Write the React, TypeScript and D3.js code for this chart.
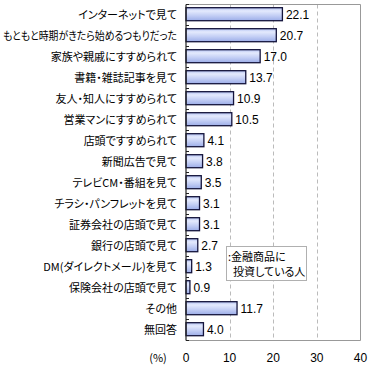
import React, { useLayoutEffect, useRef } from "react";
import * as d3 from "d3";

const categories = [
  "インターネットで見て",
  "もともと時期がきたら始めるつもりだった",
  "家族や親戚にすすめられて",
  "書籍・雑誌記事を見て",
  "友人・知人にすすめられて",
  "営業マンにすすめられて",
  "店頭ですすめられて",
  "新聞広告で見て",
  "テレビCM・番組を見て",
  "チラシ・パンフレットを見て",
  "証券会社の店頭で見て",
  "銀行の店頭で見て",
  "DM(ダイレクトメール)を見て",
  "保険会社の店頭で見て",
  "その他",
  "無回答",
];
const values = [22.1, 20.7, 17.0, 13.7, 10.9, 10.5, 4.1, 3.8, 3.5, 3.1, 3.1, 2.7, 1.3, 0.9, 11.7, 4.0];
const xTicks = [0, 10, 20, 30, 40];
const legendLines = [":金融商品に", "投資している人"];

const W = 370;
const H = 370;
const L = 186;
const R = 360.5;
const T = 4.5;
const B = 340.5;
const LABEL_X = 177;
const LABEL_MAX = 174;

const jpFont = "'Noto Sans CJK JP', 'Noto Sans', sans-serif";
const numFont = "'Liberation Sans', Arial, sans-serif";

export default function App() {
  const labelRefs = useRef<(SVGTextElement | null)[]>([]);
  const x = d3.scaleLinear().domain([0, 40]).range([L, R]);
  const y = d3.scaleBand<string>().domain(categories).range([T, B]).paddingInner(0.38).paddingOuter(0.19).align(0.4);
  const yb = d3.scaleBand<string>().domain(categories).range([T, B]).padding(0);

  useLayoutEffect(() => {
    labelRefs.current.forEach((el) => {
      if (!el) return;
      const w = el.getComputedTextLength();
      if (w > LABEL_MAX) {
        el.setAttribute("textLength", String(LABEL_MAX));
        el.setAttribute("lengthAdjust", "spacingAndGlyphs");
      }
    });
  }, []);

  return (
    <svg width={W} height={H} style={{ position: "absolute", left: 0, top: 0, background: "#fff" }}>
      <defs>
        <linearGradient id="barg" x1="0" y1="0" x2="0" y2="1">
          <stop offset="0%" stopColor="#b4c2f2" />
          <stop offset="25%" stopColor="#e4eafd" />
          <stop offset="60%" stopColor="#c4cff5" />
          <stop offset="100%" stopColor="#9cade8" />
        </linearGradient>
      </defs>
      {xTicks.slice(1, -1).map((t) => (
        <line key={t} x1={Math.round(x(t)) + 0.5} x2={Math.round(x(t)) + 0.5} y1={T} y2={B} stroke="#bbbbbb" strokeDasharray="4,3" />
      ))}
      <line x1={L} x2={R} y1={T} y2={T} stroke="#999" />
      <line x1={R} x2={R} y1={T} y2={B} stroke="#999" />
      <line x1={L} x2={R} y1={B} y2={B} stroke="#999" />
      {categories.map((c, i) => (
        <rect
          key={c}
          x={x(0)}
          y={y(c)!}
          width={x(values[i]) - x(0)}
          height={y.bandwidth()}
          fill="url(#barg)"
          stroke="#14143c"
          strokeWidth={1.3}
        />
      ))}
      <line x1={L} x2={L} y1={T} y2={B} stroke="#222" strokeWidth={1.2} />
      {d3.range(categories.length + 1).map((i) => {
        const yy = T + i * yb.step();
        return <line key={i} x1={L} x2={L + 3} y1={yy} y2={yy} stroke="#222" />;
      })}
      {categories.map((c, i) => (
        <text
          key={c}
          ref={(el) => {
            labelRefs.current[i] = el;
          }}
          x={LABEL_X}
          y={yb(c)! + yb.bandwidth() / 2}
          dy="0.36em"
          textAnchor="end"
          fontSize={11}
          fontFamily={jpFont}
          style={{ fontFeatureSettings: "'palt'" }}
          fill="#000"
        >
          {c}
        </text>
      ))}
      {categories.map((c, i) => (
        <text
          key={c}
          x={x(values[i]) + 3.5}
          y={y(c)! + y.bandwidth() / 2}
          dy="0.36em"
          fontSize={12}
          fontFamily={numFont}
          fill="#000"
        >
          {values[i].toFixed(1)}
        </text>
      ))}
      {xTicks.map((t) => (
        <text key={t} x={x(t)} y={362} textAnchor="middle" fontSize={12} fontFamily={numFont} fill="#000">
          {t}
        </text>
      ))}
      <text x={158} y={362} textAnchor="middle" fontSize={11} fontFamily={jpFont} fill="#000">
        (%)
      </text>
      <rect x={226.5} y={246.5} width={80} height={34} fill="#fff" stroke="#b0b0b0" />
      <text x={228} y={261} fontSize={11} fontFamily={jpFont} style={{ fontFeatureSettings: "'palt'" }} fill="#000">
        {legendLines[0]}
      </text>
      <text x={233} y={276} fontSize={11} fontFamily={jpFont} style={{ fontFeatureSettings: "'palt'" }} fill="#000">
        {legendLines[1]}
      </text>
    </svg>
  );
}
